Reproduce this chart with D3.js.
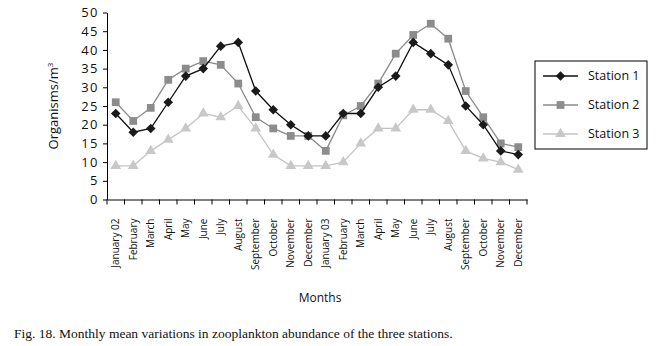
<!DOCTYPE html>
<html><head><meta charset="utf-8">
<script src="https://cdn.jsdelivr.net/npm/d3@7"></script>
<style>
body{margin:0;background:#fff;}
svg{display:block;}
</style></head>
<body>
<svg id="c" width="663" height="346"></svg>
<script>
const months = ["January 02","February","March","April","May","June","July","August","September","October","November","December",
"January 03","February","March","April","May","June","July","August","September","October","November","December"];
const station1 = [23,18,19,26,33,35,41,42,29,24,20,17,17,23,23,30,33,42,39,36,25,20,13,12];
const station2 = [26,21,24.5,32,35,37,36,31,22,19,17,17,13,22.5,25,31,39,44,47,43,29,22,15,14];
const station3 = [9,9,13,16,19,23,22,25,19,12,9,9,9,10,15,19,19,24,24,21,13,11,10,8];
const yTicks = [0,5,10,15,20,25,30,35,40,45,50];
const seriesNames = ["Station 1","Station 2","Station 3"];

const svg = d3.select("#c");
const x = d3.scaleBand().domain(d3.range(months.length)).range([107, 527]);
const y = d3.scaleLinear().domain([0,50]).range([199.5, 12.5]);

// Y axis
const yAx = svg.append("g").attr("transform","translate(107,0)")
  .call(d3.axisLeft(y).tickValues(yTicks).tickSize(4).tickPadding(4).tickSizeOuter(0));
yAx.select(".domain").attr("stroke","#000");
yAx.selectAll(".tick line").attr("stroke","#000");
yAx.selectAll(".tick text").attr("font-family","Open Sans").attr("font-size",13)
  .attr("letter-spacing","1.5px").attr("fill","#111");

// X axis
const xAx = svg.append("g").attr("transform","translate(0,199.5)")
  .call(d3.axisBottom(x).tickSize(0).tickFormat(i=>months[i]));
xAx.select(".domain").attr("stroke","#000");
xAx.selectAll(".tick text").attr("font-family","Open Sans").attr("font-size",10)
  .attr("fill","#111").attr("text-anchor","end")
  .attr("transform","rotate(-90)").attr("x",-19).attr("y",0).attr("dy","0.35em");
xAx.selectAll("line.bt").data(d3.range(months.length+1)).join("line").attr("class","bt")
  .attr("x1",i=>x.range()[0]+i*x.bandwidth()).attr("x2",i=>x.range()[0]+i*x.bandwidth())
  .attr("y1",0).attr("y2",5).attr("stroke","#000");

const cx = i=>x(i)+x.bandwidth()/2;
const line = d3.line().x((d,i)=>cx(i)).y(d=>y(d));

const styles = [
  {data:station1, stroke:"#111", fill:"#1a1a1a", shape:d3.symbolSquare, size:46, rot:45, sw:1.3},
  {data:station2, stroke:"#8a8a8a", fill:"#8c8c8c", shape:d3.symbolSquare, size:60, rot:0, sw:1.3},
  {data:station3, stroke:"#c4c4c4", fill:"#c8c8c8", shape:d3.symbolTriangle, size:50, rot:0, sw:1.3}
];
[2,1,0].forEach(k=>{
  const s = styles[k];
  const g = svg.append("g");
  g.append("path").datum(s.data).attr("d",line).attr("fill","none").attr("stroke",s.stroke).attr("stroke-width",s.sw);
  g.selectAll("path.m").data(s.data).join("path").attr("class","m")
    .attr("d",d3.symbol().type(s.shape).size(s.size))
    .attr("transform",(d,i)=>`translate(${cx(i)},${y(d)}) rotate(${s.rot})`)
    .attr("fill",s.fill);
});

// Legend
const lg = svg.append("g");
lg.append("rect").attr("x",535).attr("y",61).attr("width",112).attr("height",88)
  .attr("fill","#fff").attr("stroke","#000").attr("stroke-width",1);
seriesNames.forEach((n,k)=>{
  const s = styles[k];
  const yy = 76 + k*29;
  lg.append("line").attr("x1",543).attr("x2",578).attr("y1",yy).attr("y2",yy).attr("stroke",s.stroke).attr("stroke-width",s.sw);
  lg.append("path").attr("d",d3.symbol().type(s.shape).size(s.size))
    .attr("transform",`translate(560.5,${yy}) rotate(${s.rot})`).attr("fill",s.fill);
  lg.append("text").attr("x",588).attr("y",yy).attr("dy","0.35em").attr("font-family","Open Sans")
    .attr("font-size",12.5).attr("fill","#111").text(n);
});

// Axis titles
svg.append("text").attr("transform","translate(58,106) rotate(-90)").attr("text-anchor","middle")
  .attr("font-family","Open Sans").attr("font-size",13).attr("fill","#111")
  .html('Organisms/m<tspan dy="-5" font-size="8">3</tspan>');
svg.append("text").attr("x",320).attr("y",302).attr("text-anchor","middle")
  .attr("font-family","Open Sans").attr("font-size",12).attr("fill","#111").text("Months");
svg.append("text").attr("x",14).attr("y",338)
  .attr("font-family","Liberation Serif").attr("font-size",13.5).attr("fill","#111")
  .text("Fig. 18. Monthly mean variations in zooplankton abundance of the three stations.");
</script>
</body></html>
